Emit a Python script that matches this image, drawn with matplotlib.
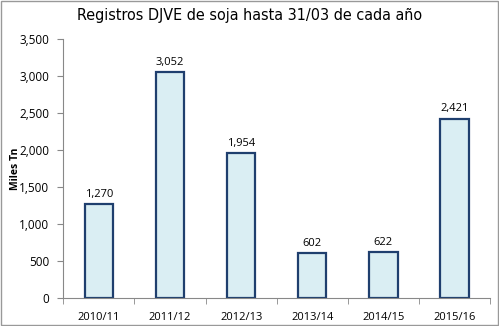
import numpy as np
import matplotlib.pyplot as plt
from matplotlib.patches import Rectangle

campanas = ['2010/11', '2011/12', '2012/13', '2013/14', '2014/15', '2015/16']
registros = [1270, 3052, 1954, 602, 622, 2421]
y_ticks = [0, 500, 1000, 1500, 2000, 2500, 3000, 3500]

plt.rcParams['font.family'] = ['Open Sans', 'DejaVu Sans']

fig = plt.figure(figsize=(4.99, 3.26), dpi=100)
ax = fig.add_axes([0.127, 0.086, 0.855, 0.794])

x = np.arange(len(campanas))
ax.bar(x, registros, width=0.4, color='#DAEEF3', edgecolor='#1F3F6E', linewidth=1.6)

# etiquetas de valor sobre cada barra
for xi, v in zip(x, registros):
    ax.text(xi, v + 60, f'{v:,}', ha='center', va='bottom', fontsize=8)

ax.set_xlim(-0.5, len(campanas) - 0.5)
ax.set_ylim(0, 3500)
ax.set_yticks(y_ticks)
ax.set_yticklabels([f'{t:,}' for t in y_ticks], fontsize=8.5)
ax.set_xticks(x)
ax.set_xticklabels(campanas, fontsize=8)
ax.set_xticks(np.arange(len(campanas) + 1) - 0.5, minor=True)
ax.tick_params(axis='x', which='major', length=0, pad=10)
ax.tick_params(axis='x', which='minor', length=4, color='#888888', direction='out')
ax.tick_params(axis='y', length=4, color='#888888', direction='out', pad=6)

for s in ['top', 'right']:
    ax.spines[s].set_visible(False)
for s in ['left', 'bottom']:
    ax.spines[s].set_color('#888888')
    ax.spines[s].set_linewidth(0.8)

ax.set_ylabel('Miles Tn', fontsize=7.5, fontweight='bold')
ax.yaxis.set_label_coords(-0.10, 0.5)
fig.text(0.5, 0.951, 'Registros DJVE de soja hasta 31/03 de cada año',
         ha='center', va='center', fontsize=11.5, fontstretch='condensed',
         family=['DejaVu Sans', 'Open Sans'])

fig.patches.append(Rectangle((0.002, 0.003), 0.995, 0.993, transform=fig.transFigure,
                             fill=False, edgecolor='#999999', linewidth=1))

fig.savefig('out.png', dpi=100)
